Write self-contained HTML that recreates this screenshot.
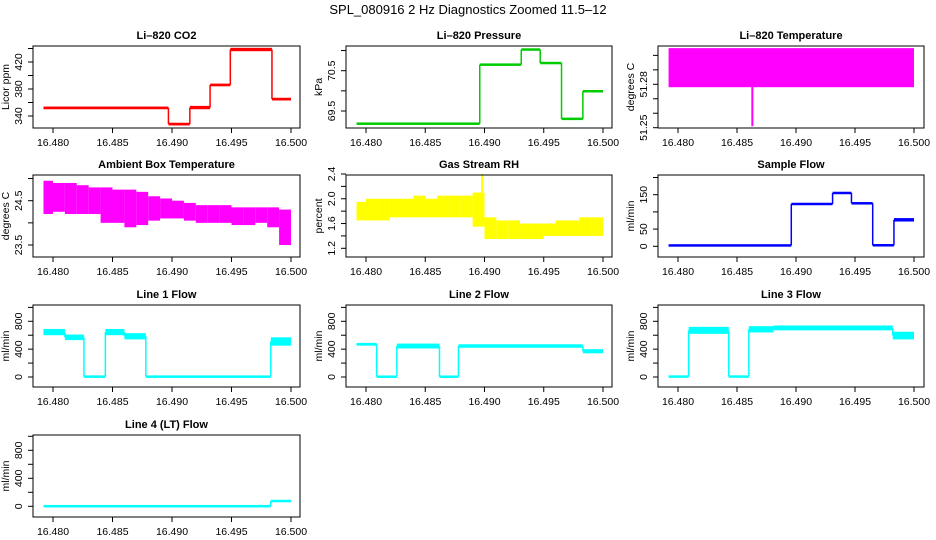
<!DOCTYPE html>
<html><head><meta charset="utf-8"><style>
body{margin:0;background:#fff;width:936px;height:540px;overflow:hidden}
svg{display:block;font-family:"Liberation Sans",Arial,sans-serif}
</style></head><body>
<svg id="c" width="936" height="540">
<text x="468" y="14" text-anchor="middle" font-size="13">SPL_080916  2 Hz Diagnostics Zoomed 11.5–12</text>
</svg>
<script>
// ---- data ----
const xTicks = [16.480, 16.485, 16.490, 16.495, 16.500];
const xTickLabels = ["16.480", "16.485", "16.490", "16.495", "16.500"];

const co2Breaks = [16.4792, 16.4897, 16.4915, 16.4932, 16.4949, 16.4984, 16.500];
const co2Lo = [350, 326, 350, 384, 436, 363];
const co2Hi = [354, 330, 355, 388, 441, 367];

const presBreaks = [16.4792, 16.4896, 16.4931, 16.4947, 16.4965, 16.4983, 16.500];
const presLo = [69.17, 70.62, 71.0, 70.66, 69.28, 69.96];
const presHi = [69.2, 70.68, 71.05, 70.72, 69.33, 70.02];

const tempBreaks = [16.4792, 16.500];
const tempLo = [51.278];
const tempHi = [51.305];
const tempSpikeX = [16.4863];
const tempSpikeV = [51.251];

const binStarts = [16.479,16.480,16.481,16.482,16.483,16.484,16.485,16.486,16.487,16.488,16.489,16.490,16.491,16.492,16.493,16.494,16.495,16.496,16.497,16.498,16.499];
const ambHi = [24.95,24.9,24.9,24.85,24.8,24.8,24.75,24.75,24.7,24.6,24.55,24.5,24.45,24.4,24.4,24.4,24.35,24.35,24.35,24.35,24.3];
const ambLo = [24.2,24.25,24.2,24.2,24.2,24.0,24.0,23.9,23.95,24.05,24.1,24.1,24.05,24.0,24.0,24.0,23.95,23.95,24.0,23.9,23.5];

const rhHi = [1.95,2.0,2.0,2.0,2.0,2.05,2.0,2.05,2.05,2.05,2.1,1.7,1.65,1.65,1.6,1.6,1.6,1.65,1.65,1.7,1.7];
const rhLo = [1.65,1.65,1.65,1.7,1.7,1.7,1.7,1.7,1.7,1.7,1.55,1.35,1.35,1.35,1.35,1.35,1.4,1.4,1.4,1.4,1.4];
const rhSpikeX = [16.4898];
const rhSpikeV = [2.4];

const sampBreaks = [16.4792, 16.4896, 16.4931, 16.4947, 16.4965, 16.4983, 16.500];
const sampLo = [0, 120, 152, 122, 0, 72];
const sampHi = [5, 126, 158, 128, 6, 82];

const l1Breaks = [16.4792, 16.481, 16.4826, 16.4844, 16.486, 16.4878, 16.4983, 16.500];
const l1Lo = [600, 530, 0, 600, 540, 0, 450];
const l1Hi = [690, 610, 10, 690, 630, 10, 570];

const l2Breaks = [16.4792, 16.4809, 16.4826, 16.4862, 16.4878, 16.4983, 16.500];
const l2Lo = [450, 0, 410, 0, 420, 340];
const l2Hi = [490, 8, 480, 8, 470, 400];

const l3Breaks = [16.4792, 16.4809, 16.4843, 16.486, 16.4881, 16.4982, 16.500];
const l3Lo = [0, 620, 0, 640, 670, 540];
const l3Hi = [12, 720, 12, 730, 740, 650];

const l4Breaks = [16.4792, 16.4983, 16.500];
const l4Lo = [-5, 65];
const l4Hi = [8, 85];

// ---- layout ----
const NS = "http://www.w3.org/2000/svg";
const svg = document.getElementById("c");
function mk(tag, attrs, parent) {
  const e = document.createElementNS(NS, tag);
  for (const k in attrs) e.setAttribute(k, attrs[k]);
  (parent || svg).appendChild(e);
  return e;
}
const cols = [{x0:33,x1:300,t0:53,t1:291},{x0:346,x1:612,t0:366,t1:603},{x0:658,x1:924,t0:678,t1:914}];
const rows = [{y0:46,y1:128},{y0:175,y1:257},{y0:305,y1:387},{y0:435,y1:517}];

const panels = [
  {name:"co2",title:"Li–820 CO2",ylab:"Licor ppm",c:0,r:0,col:"#ff0000",va:340,pa:116,vb:420,pb:62,ticks:[340,360,380,400,420,440],labs:[340,380,420],fmt:v=>String(v),breaks:co2Breaks,lo:co2Lo,hi:co2Hi},
  {name:"pressure",title:"Li–820 Pressure",ylab:"kPa",c:1,r:0,col:"#00cc00",va:69.5,pa:111,vb:70.5,pb:70.7,ticks:[69.5,70,70.5,71],labs:[69.5,70.5],fmt:v=>v.toFixed(1),breaks:presBreaks,lo:presLo,hi:presHi},
  {name:"temperature",title:"Li–820 Temperature",ylab:"degrees C",c:2,r:0,col:"#ff00ff",va:51.25,pa:127.7,vb:51.28,pb:84.3,ticks:[51.25,51.26,51.27,51.28,51.29,51.30],labs:[51.25,51.28],fmt:v=>v.toFixed(2),breaks:tempBreaks,lo:tempLo,hi:tempHi,sx:tempSpikeX,sv:tempSpikeV},
  {name:"ambient-temp",title:"Ambient Box Temperature",ylab:"degrees C",c:0,r:1,col:"#ff00ff",va:23.5,pa:245,vb:24.5,pb:200.7,ticks:[23.5,24,24.5,25],labs:[23.5,24.5],fmt:v=>v.toFixed(1),bins:true,lo:ambLo,hi:ambHi},
  {name:"gas-rh",title:"Gas Stream RH",ylab:"percent",c:1,r:1,col:"#ffff00",va:1.2,pa:248.3,vb:2.4,pb:174,ticks:[1.2,1.4,1.6,1.8,2.0,2.2,2.4],labs:[1.2,1.6,2.0,2.4],fmt:v=>v.toFixed(1),bins:true,lo:rhLo,hi:rhHi,sx:rhSpikeX,sv:rhSpikeV},
  {name:"sample-flow",title:"Sample Flow",ylab:"ml/min",c:2,r:1,col:"#0000ff",va:0,pa:246.3,vb:150,pb:194.7,ticks:[0,50,100,150,200],labs:[0,50,150],fmt:v=>String(v),breaks:sampBreaks,lo:sampLo,hi:sampHi},
  {name:"line1-flow",title:"Line 1 Flow",ylab:"ml/min",c:0,r:2,col:"#00ffff",va:0,pa:377,vb:800,pb:321.3,ticks:[0,200,400,600,800,1000],labs:[0,400,800],fmt:v=>String(v),breaks:l1Breaks,lo:l1Lo,hi:l1Hi},
  {name:"line2-flow",title:"Line 2 Flow",ylab:"ml/min",c:1,r:2,col:"#00ffff",va:0,pa:377,vb:800,pb:321.3,ticks:[0,200,400,600,800,1000],labs:[0,400,800],fmt:v=>String(v),breaks:l2Breaks,lo:l2Lo,hi:l2Hi},
  {name:"line3-flow",title:"Line 3 Flow",ylab:"ml/min",c:2,r:2,col:"#00ffff",va:0,pa:377,vb:800,pb:321.3,ticks:[0,200,400,600,800,1000],labs:[0,400,800],fmt:v=>String(v),breaks:l3Breaks,lo:l3Lo,hi:l3Hi},
  {name:"line4-flow",title:"Line 4 (LT) Flow",ylab:"ml/min",c:0,r:3,col:"#00ffff",va:0,pa:506.3,vb:800,pb:450.3,ticks:[0,200,400,600,800,1000],labs:[0,400,800],fmt:v=>String(v),breaks:l4Breaks,lo:l4Lo,hi:l4Hi}
];

panels.forEach(p => {
  const C = cols[p.c], R = rows[p.r];
  const xs = v => C.t0 + (v - 16.480) / 0.02 * (C.t1 - C.t0);
  const ys = v => p.pa + (v - p.va) / (p.vb - p.va) * (p.pb - p.pa);
  const g = mk("g", {});
  
  
  const t = mk("text", {x:(C.x0+C.x1)/2, y:R.y0-7, "text-anchor":"middle", "font-size":"11", "font-weight":"bold"}, g);
  t.textContent = p.title;
  
  
  const dg = mk("g", {fill:p.col, stroke:p.col}, g);
  
  
  if (p.bins) {
    for (let i = 0; i < p.lo.length; i++) {
      const a = Math.max(binStarts[i], 16.4792), b = binStarts[i] + 0.001;
      const r = mk("rect", {x:xs(a), y:ys(p.hi[i]), width:xs(b)-xs(a), height:ys(p.lo[i])-ys(p.hi[i]), stroke:"none"}, dg);
      
      
    }
  } else {
    for (let i = 0; i < p.lo.length; i++) {
      const a = p.breaks[i], b = p.breaks[i+1];
      let y1 = ys(p.hi[i]), y2 = ys(p.lo[i]);
      if (y2 - y1 < 2.5) { const m=(y1+y2)/2; y1=m-1.25; y2=m+1.25; }
      const r = mk("rect", {x:xs(a), y:y1, width:xs(b)-xs(a), height:y2-y1, stroke:"none"}, dg);
      
      
      if (i < p.lo.length - 1) {
        const n1 = ys((p.lo[i]+p.hi[i])/2), n2 = ys((p.lo[i+1]+p.hi[i+1])/2);
        const l = mk("line", {x1:xs(b), x2:xs(b), y1:n1, y2:n2, "stroke-width":"1.5"}, dg);
        
        
      }
    }
  }
  if (p.sx) {
    p.sx.forEach((sx, i) => {
      const l = mk("line", {x1:xs(sx), x2:xs(sx), y1:ys(p.sv[i]), y2:ys((p.lo[0]+p.hi[0])/2), "stroke-width":"2"}, dg);
      
      
    });
  }
  const bx = mk("rect", {x:C.x0, y:R.y0, width:C.x1-C.x0, height:R.y1-R.y0, fill:"none", stroke:"#000", "stroke-width":"1"}, g);
  
  
  xTicks.forEach((v, i) => {
    const x = xs(v);
    const tk = mk("line", {x1:x, x2:x, y1:R.y1, y2:R.y1+5, stroke:"#000"}, g);
    
    
    const tl = mk("text", {x:x, y:R.y1+18, "text-anchor":"middle", "font-size":"10.5"}, g);
    tl.textContent = xTickLabels[i];
    
    
  });
  p.ticks.forEach(v => {
    const y = ys(v);
    const tk = mk("line", {x1:C.x0-5, x2:C.x0, y1:y, y2:y, stroke:"#000"}, g);
    
    
  });
  p.labs.forEach(v => {
    const y = ys(v);
    const tl = mk("text", {x:0, y:0, "text-anchor":"middle", "font-size":"10.5", transform:`translate(${C.x0-11},${y}) rotate(-90)`}, g);
    tl.textContent = p.fmt(v);
    
    
  });
  const yt = mk("text", {x:0, y:0, "text-anchor":"middle", "font-size":"10.5", transform:`translate(${C.x0-24},${(R.y0+R.y1)/2}) rotate(-90)`}, g);
  yt.textContent = p.ylab;
  
  
});
</script>
</body></html>
